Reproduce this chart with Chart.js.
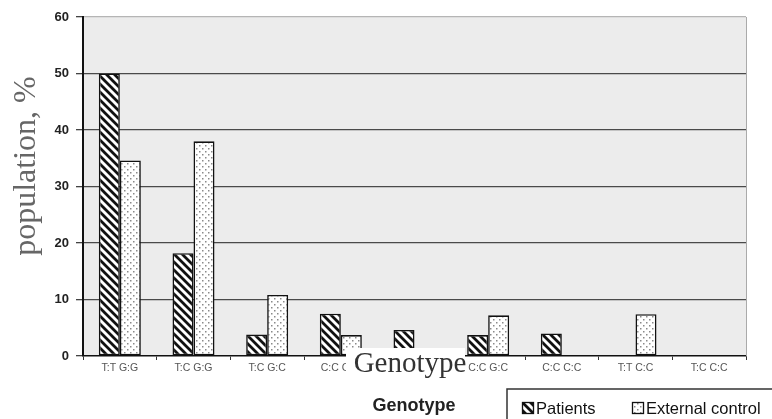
<!DOCTYPE html>
<html>
<head>
<meta charset="utf-8">
<script src="https://cdn.jsdelivr.net/npm/chart.js@4.4.1/dist/chart.umd.min.js"></script>
<style>
  html, body { margin: 0; padding: 0; background: #fff; }
  #wrap { position: relative; width: 772px; height: 419px; }
</style>
</head>
<body>
<div id="wrap"><canvas id="chart" width="772" height="419"></canvas></div>
<script>
// genotype frequencies
const genotypes = ['T:T G:G', 'T:C G:G', 'T:C G:C', 'C:C G:G', 'T:T G:C', 'C:C G:C', 'C:C C:C', 'T:T C:C', 'T:C C:C']
const patients = [50, 18.2, 3.8, 7.5, 4.6, 3.7, 4, 0, 0]
const extControl = [34.6, 38, 10.8, 3.7, 0, 7.2, 0, 7.4, 0]
const yTicks = [0, 10, 20, 30, 40, 50, 60]

// fill patterns like the old excel print
function hatch() {
  const n = 8
  const c = document.createElement('canvas')
  c.width = n; c.height = n
  const g = c.getContext('2d')
  g.fillStyle = '#fff'
  g.fillRect(0, 0, n, n)
  g.strokeStyle = '#111'
  g.lineWidth = 2.8
  g.beginPath()
  g.moveTo(-1, -1); g.lineTo(n + 1, n + 1)
  g.moveTo(-1, n - 1); g.lineTo(1, n + 1)
  g.moveTo(n - 1, -1); g.lineTo(n + 1, 1)
  g.stroke()
  return g.createPattern(c, 'repeat')
}

function dots() {
  const c = document.createElement('canvas')
  c.width = 6; c.height = 6
  const g = c.getContext('2d')
  g.fillStyle = '#fff'
  g.fillRect(0, 0, 6, 6)
  g.fillStyle = '#8a8a8a'
  g.fillRect(1, 1, 1.5, 1.5)
  g.fillRect(4, 4, 1.5, 1.5)
  return g.createPattern(c, 'repeat')
}

const ctx = document.getElementById('chart').getContext('2d')

const decor = {
  id: 'decor',
  beforeDraw(chart) {
    const { ctx, chartArea: a } = chart
    ctx.save()
    ctx.fillStyle = '#ececec'
    ctx.fillRect(a.left, a.top, a.right - a.left, a.bottom - a.top)
    ctx.restore()
  },
  afterDraw(chart) {
    const { ctx, chartArea: a } = chart
    ctx.save()
    // right edge of plot
    ctx.strokeStyle = '#aaa'
    ctx.lineWidth = 1
    ctx.beginPath()
    ctx.moveTo(a.right + 0.5, a.top)
    ctx.lineTo(a.right + 0.5, a.bottom)
    ctx.stroke()

    // y title, big serif
    ctx.save()
    ctx.translate(27, 166)
    ctx.rotate(-Math.PI / 2)
    ctx.fillStyle = '#666'
    ctx.font = '32px "Liberation Serif", "Times New Roman", serif'
    ctx.textAlign = 'center'
    ctx.textBaseline = 'middle'
    ctx.fillText('population, %', 0, 0)
    ctx.restore()

    // stray pasted label over the axis
    ctx.fillStyle = '#fff'
    ctx.fillRect(346, 348, 119, 33)
    ctx.fillStyle = '#333'
    ctx.font = '29px "Liberation Serif", "Times New Roman", serif'
    ctx.textAlign = 'center'
    ctx.textBaseline = 'alphabetic'
    ctx.fillText('Genotype', 410, 372)

    // axis title
    ctx.fillStyle = '#222'
    ctx.font = 'bold 18px "Liberation Sans", Arial, sans-serif'
    ctx.fillText('Genotype', 414, 411)

    // legend box
    ctx.strokeStyle = '#333'
    ctx.lineWidth = 1.5
    ctx.strokeRect(507, 389, 280, 40)
    ctx.textAlign = 'left'
    ctx.font = '16.5px "Liberation Sans", Arial, sans-serif'
    const xs = [522, 632]
    chart.data.datasets.forEach((ds, i) => {
      ctx.fillStyle = ds.backgroundColor
      ctx.fillRect(xs[i], 402, 11, 11)
      ctx.strokeStyle = '#111'
      ctx.lineWidth = 1.3
      ctx.strokeRect(xs[i] + 0.5, 402.5, 11, 11)
      ctx.fillStyle = '#111'
      ctx.fillText(ds.label, xs[i] + 14, 414)
    })
    ctx.restore()
  }
}

new Chart(ctx, {
  type: 'bar',
  data: {
    labels: genotypes,
    datasets: [
      { label: 'Patients', data: patients, backgroundColor: hatch(), borderColor: '#111', borderWidth: 1.6, borderSkipped: false },
      { label: 'External control', data: extControl, backgroundColor: dots(), borderColor: '#111', borderWidth: 1.6, borderSkipped: false }
    ]
  },
  options: {
    responsive: false,
    animation: false,
    layout: { padding: { left: 0, right: 26, top: 17, bottom: 0 } },
    datasets: { bar: { categoryPercentage: 0.57, barPercentage: 1.0 } },
    plugins: { legend: { display: false }, tooltip: { enabled: false } },
    scales: {
      x: {
        afterFit: s => { s.height = 63 },
        grid: { offset: true, drawOnChartArea: false, drawTicks: true, tickLength: 4, tickColor: '#333' },
        border: { color: '#111', width: 1.6 },
        ticks: { padding: 2, maxRotation: 0, color: '#555', font: { size: 10.5, family: 'Arial, "Liberation Sans", sans-serif' } }
      },
      y: {
        min: 0,
        max: 60,
        afterFit: s => { s.width = 83 },
        afterBuildTicks: s => { s.ticks = yTicks.map(v => ({ value: v })) },
        grid: {
          color: c => c.tick.value === 60 ? '#b5b5b5' : (c.tick.value === 0 ? 'rgba(0,0,0,0)' : '#4a4a4a'),
          lineWidth: 1.3,
          tickLength: 7,
          tickColor: '#444'
        },
        border: { color: '#111', width: 2 },
        ticks: { padding: 7, color: '#222', font: { size: 13, weight: 'bold', family: '"Liberation Sans Narrow", "Arial Narrow", Arial, sans-serif' } }
      }
    }
  },
  plugins: [decor]
})
</script>
</body>
</html>
